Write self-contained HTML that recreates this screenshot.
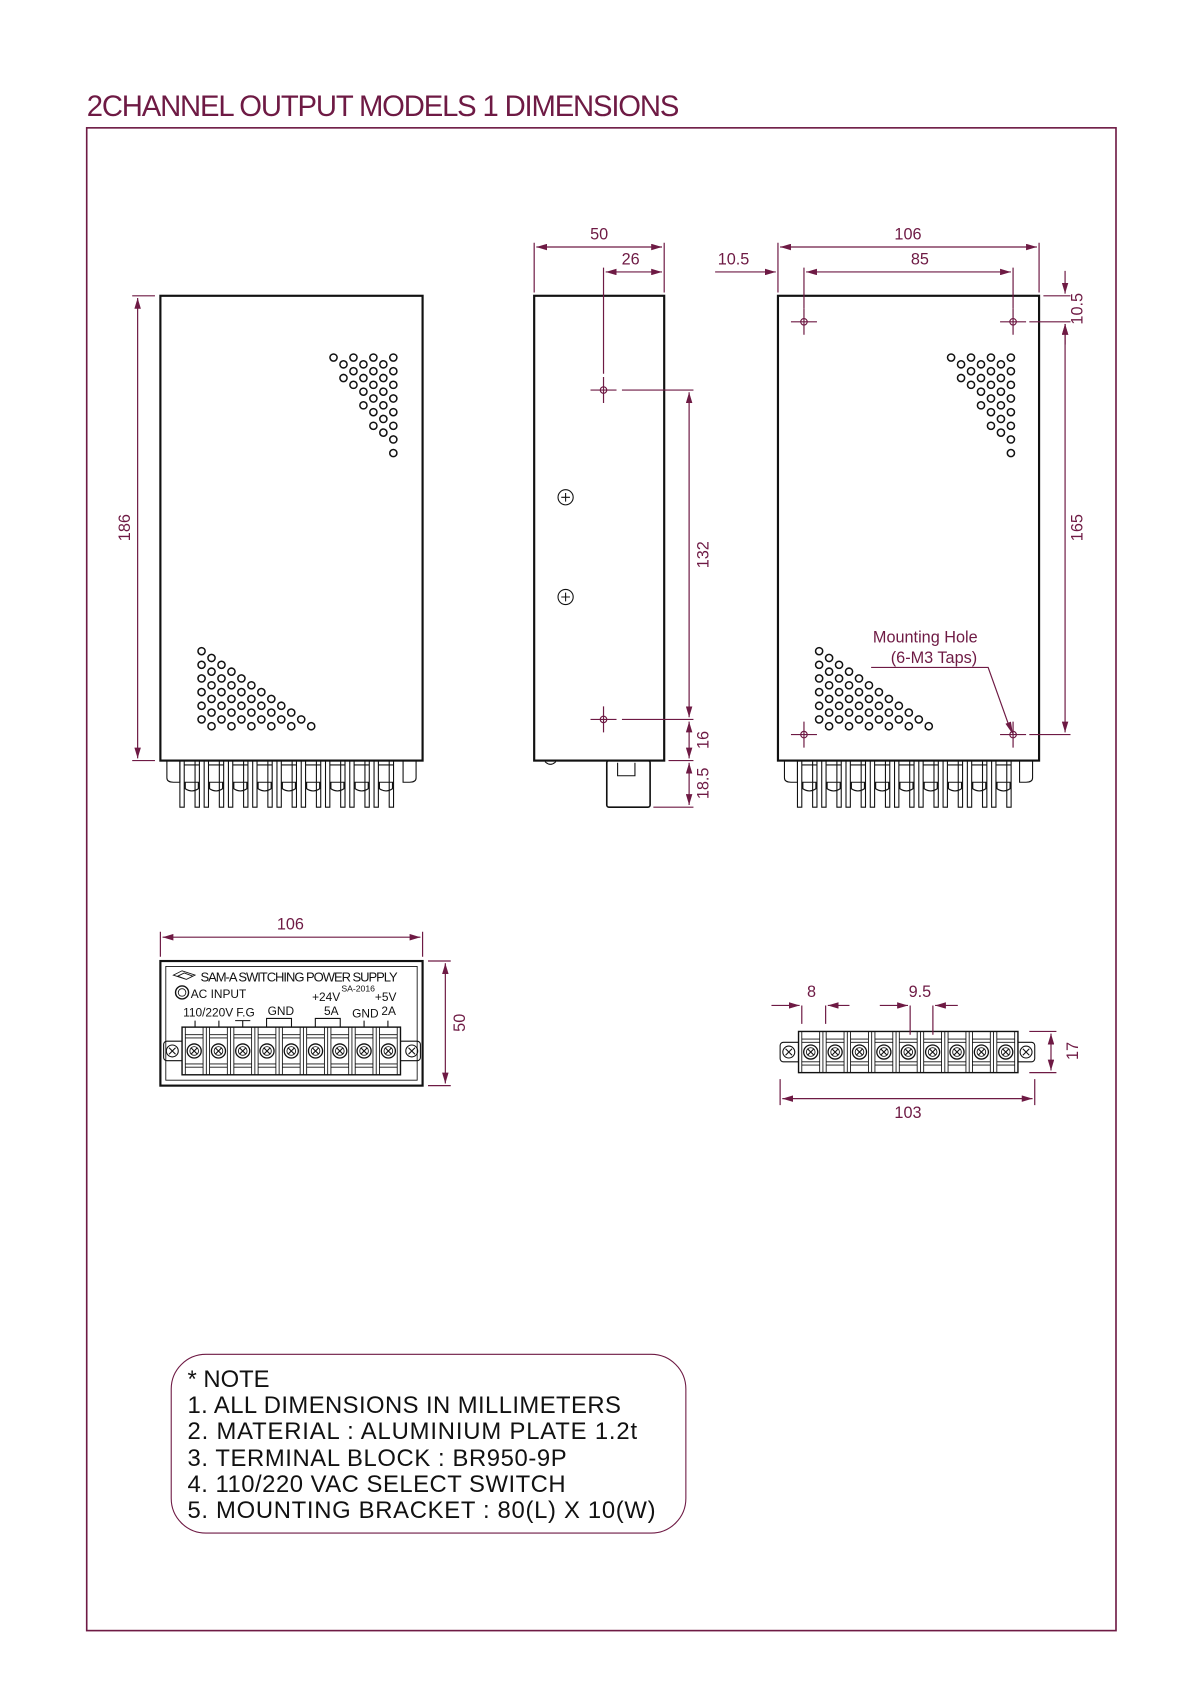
<!DOCTYPE html>
<html><head><meta charset="utf-8"><style>
html,body{margin:0;padding:0;background:#fff}
svg{display:block}
text{font-family:"Liberation Sans Narrow","Liberation Sans","Noto Sans CJK KR",sans-serif}
.m{fill:#6e1a44}
.d{stroke:#6e1a44;stroke-width:1.1;fill:none}
.k{stroke:#111;fill:none}
</style></head><body>
<svg id="s" width="1200" height="1698" viewBox="0 0 1107.5 1567.2" xmlns="http://www.w3.org/2000/svg">
<defs>
<marker id="a" viewBox="0 0 10 6" refX="10" refY="3" markerWidth="10" markerHeight="6" orient="auto-start-reverse" markerUnits="userSpaceOnUse"><path d="M0,0L10,3L0,6z" fill="#6e1a44"/></marker>
</defs>
<text x="80" y="107" class="m" font-size="27" textLength="547">2CHANNEL  OUTPUT  MODELS  1  DIMENSIONS</text>
<rect x="80" y="118" width="950" height="1387" fill="none" stroke="#6e1a44" stroke-width="1.5"/>

<rect x="148" y="273" width="242" height="429" class="k" stroke-width="2"/>
<g id="v1"></g><g id="v2"></g><g id="v3"></g><g id="v4"></g>
<g id="pins1"></g><g id="pins2"></g>
<path class="d" d="M122,273H143M122,702H143"/>
<line class="d" x1="127" y1="275" x2="127" y2="700" marker-start="url(#a)" marker-end="url(#a)"/>
<text class="m" font-size="15" transform="translate(120,487) rotate(-90)" text-anchor="middle">186</text>

<rect x="493" y="273" width="120" height="429" class="k" stroke-width="2"/>
<rect x="560" y="702" width="40" height="43" rx="2" class="k" stroke-width="1.5"/>
<path class="k" d="M570,704v12h16v-12" stroke-width="1"/>
<path class="k" d="M503,703q5,5 10,0" stroke-width="1"/>
<g class="k" stroke-width="1"><circle cx="522" cy="459" r="7"/><path d="M518,459h8M522,455v8"/><circle cx="522" cy="551" r="7"/><path d="M518,551h8M522,547v8"/></g>
<g class="d"><path d="M545,360h24M557,348v24M545,664h24M557,652v24"/><circle cx="557" cy="360" r="3"/><circle cx="557" cy="664" r="3"/>
<path d="M493,270V224M613,270V224M557,345V247M574,360H640M574,664H640M617,702H640M603,745H640"/></g>
<line class="d" x1="495" y1="228" x2="611" y2="228" marker-start="url(#a)" marker-end="url(#a)"/>
<line class="d" x1="559" y1="251" x2="611" y2="251" marker-start="url(#a)" marker-end="url(#a)"/>
<text class="m" font-size="15" x="553" y="221" text-anchor="middle">50</text>
<text class="m" font-size="15" x="582" y="244" text-anchor="middle">26</text>
<line class="d" x1="636" y1="362" x2="636" y2="662" marker-start="url(#a)" marker-end="url(#a)"/>
<line class="d" x1="636" y1="666" x2="636" y2="700" marker-start="url(#a)" marker-end="url(#a)"/>
<line class="d" x1="636" y1="704" x2="636" y2="743" marker-start="url(#a)" marker-end="url(#a)"/>
<text class="m" font-size="15" transform="translate(654,512) rotate(-90)" text-anchor="middle">132</text>
<text class="m" font-size="15" transform="translate(654,683) rotate(-90)" text-anchor="middle">16</text>
<text class="m" font-size="15" transform="translate(654,723) rotate(-90)" text-anchor="middle">18.5</text>

<rect x="718" y="273" width="241" height="429" class="k" stroke-width="2"/>
<g class="d">
<path d="M730,297h24M742,285v24M923,297h24M935,285v24M730,678h24M742,666v24M923,678h24M935,666v24"/>
<circle cx="742" cy="297" r="3"/><circle cx="935" cy="297" r="3"/><circle cx="742" cy="678" r="3"/><circle cx="935" cy="678" r="3"/>
<path d="M718,270V224M959,270V224M742,285V247M935,285V247M963,273H988M950,297H988M950,678H988"/>
<path d="M804,616H912L932,672"/>
</g>
<path d="M928,668L935,678L933,666z" fill="#6e1a44"/>
<line class="d" x1="720" y1="228" x2="957" y2="228" marker-start="url(#a)" marker-end="url(#a)"/>
<line class="d" x1="744" y1="251" x2="933" y2="251" marker-start="url(#a)" marker-end="url(#a)"/>
<line class="d" x1="660" y1="251" x2="716" y2="251" marker-end="url(#a)"/>
<text class="m" font-size="15" x="838" y="221" text-anchor="middle">106</text>
<text class="m" font-size="15" x="849" y="244" text-anchor="middle">85</text>
<text class="m" font-size="15" x="677" y="244" text-anchor="middle">10.5</text>
<line class="d" x1="983" y1="250" x2="983" y2="271" marker-end="url(#a)"/>
<line class="d" x1="983" y1="318" x2="983" y2="299" marker-end="url(#a)"/>
<line class="d" x1="983" y1="299" x2="983" y2="676" marker-start="url(#a)" marker-end="url(#a)"/>
<text class="m" font-size="15" transform="translate(999,285) rotate(-90)" text-anchor="middle">10.5</text>
<text class="m" font-size="15" transform="translate(999,487) rotate(-90)" text-anchor="middle">165</text>
<text class="m" font-size="15" x="854" y="593" text-anchor="middle">Mounting Hole</text>
<text class="m" font-size="15" x="862" y="612" text-anchor="middle">(6-M3 Taps)</text>

<path class="d" d="M148,883V860M390,883V860M395,887H416M395,1002H416"/>
<line class="d" x1="150" y1="865" x2="388" y2="865" marker-start="url(#a)" marker-end="url(#a)"/>
<text class="m" font-size="15" x="268" y="858" text-anchor="middle">106</text>
<line class="d" x1="411" y1="889" x2="411" y2="1000" marker-start="url(#a)" marker-end="url(#a)"/>
<text class="m" font-size="15" transform="translate(429,944) rotate(-90)" text-anchor="middle">50</text>
<rect x="148" y="887" width="242" height="115" class="k" stroke-width="2"/>
<path class="k" stroke-width="0.8" d="M153,892H385V997H153Z"/>
<path class="k" stroke-width="0.8" d="M160,900l8,-4l12,4l-8,4zM164,901l6,-3l8,3l-6,3z"/>
<text x="185" y="906" font-size="12" fill="#111" textLength="182">SAM-A SWITCHING POWER SUPPLY</text>
<text x="315" y="915" font-size="8" fill="#111">SA-2016</text>
<circle cx="168" cy="916" r="6" class="k" stroke-width="1.3"/><circle cx="168" cy="916" r="3.5" class="k" stroke-width="0.8"/>
<text x="176" y="921" font-size="11" fill="#111">AC INPUT</text>
<text x="288" y="924" font-size="11" fill="#111">+24V</text>
<text x="346" y="924" font-size="11" fill="#111">+5V</text>
<text x="169" y="938" font-size="11" fill="#111">110/220V</text>
<text x="218" y="938" font-size="11" fill="#111">F.G</text>
<text x="247" y="937" font-size="11" fill="#111">GND</text>
<text x="299" y="937" font-size="11" fill="#111">5A</text>
<text x="325" y="939" font-size="11" fill="#111">GND</text>
<text x="352" y="937" font-size="11" fill="#111">2A</text>
<path class="k" stroke-width="1" d="M180,942v6M202,942v6M224,942v6M217,942h14M246,948v-8h23v8M291,948v-8h23v8M336,942v6M358,942v6"/>
<g id="tb1"></g>
<g id="tb2"></g>
<g class="d"><path d="M740,928V945M762,928V945M840,928V955M861,928V955M950,952H975M950,990H975M720,996V1020M955,996V1020"/></g>
<line class="d" x1="712" y1="928" x2="738" y2="928" marker-end="url(#a)"/>
<line class="d" x1="784" y1="928" x2="764" y2="928" marker-end="url(#a)"/>
<line class="d" x1="812" y1="928" x2="838" y2="928" marker-end="url(#a)"/>
<line class="d" x1="884" y1="928" x2="863" y2="928" marker-end="url(#a)"/>
<line class="d" x1="722" y1="1014" x2="953" y2="1014" marker-start="url(#a)" marker-end="url(#a)"/>
<line class="d" x1="970" y1="954" x2="970" y2="988" marker-start="url(#a)" marker-end="url(#a)"/>
<text class="m" font-size="15" x="749" y="920" text-anchor="middle">8</text>
<text class="m" font-size="15" x="849" y="920" text-anchor="middle">9.5</text>
<text class="m" font-size="15" x="838" y="1032" text-anchor="middle">103</text>
<text class="m" font-size="15" transform="translate(995,970) rotate(-90)" text-anchor="middle">17</text>

<rect x="158" y="1250" width="475" height="165" rx="32" fill="none" stroke="#6e1a44" stroke-width="1"/>
<g font-size="22" fill="#111">
<text x="173" y="1280">*  NOTE</text>
<text x="173" y="1304" textLength="400">1.  ALL  DIMENSIONS  IN  MILLIMETERS</text>
<text x="173" y="1328" textLength="415">2.  MATERIAL  :  ALUMINIUM  PLATE  1.2t</text>
<text x="173" y="1353" textLength="350">3.  TERMINAL  BLOCK  :  BR950-9P</text>
<text x="173" y="1377" textLength="349">4.  110/220  VAC  SELECT  SWITCH</text>
<text x="173" y="1401" textLength="432">5.  MOUNTING  BRACKET  :  80(L)  X  10(W)</text>
</g>
</svg>
<script>
var NS="http://www.w3.org/2000/svg";
function el(p,t,a){var e=document.createElementNS(NS,t);for(var k in a)e.setAttribute(k,a[k]);document.getElementById(p).appendChild(e);return e;}
function c(p,x,y){el(p,"circle",{cx:x,cy:y,r:3.3,fill:"none",stroke:"#111","stroke-width":1.4});}
function tr(p,right,top){for(var i=0;i<15;i++){var y=top+i*6.3;var off=(i%2)?9.2:0;var left=right-60+i*4.1;for(var x=right-off;x>=left-1;x-=18.4)c(p,x,y);}}
function bl(p,left,top){for(var i=0;i<12;i++){var y=top+i*6.3;var off=(i%2)?9.2:0;var right=left+4+i*9.3;for(var x=left+off;x<=right+1;x+=18.4)c(p,x,y);}}
tr("v1",363,330);tr("v3",933,330);bl("v2",186,601);bl("v4",756,601);
function pins(p,x0){for(var i=0;i<9;i++){var x=x0+i*22.4;
el(p,"path",{d:"M"+x+",702v43h4v-43M"+(x+4)+",706h14v-4M"+(x+18)+",702v43h-4v-43M"+(x+5)+",722h12v6q-6,4 -12,0z",fill:"none",stroke:"#111","stroke-width":1});}}
pins("pins1",166);pins("pins2",736);
el("pins1","path",{d:"M154,702v16q0,4 6,4h6v-20M384,702v16q0,4 -6,4h-6v-20",fill:"none",stroke:"#111","stroke-width":1});
el("pins2","path",{d:"M724,702v16q0,4 6,4h6v-20M953,702v16q0,4 -6,4h-6v-20",fill:"none",stroke:"#111","stroke-width":1});
function tb(p,x0,y0,w,h,n,l,r){
el(p,"rect",{x:l,y:y0+(h/2)-9,width:r-l,height:18,rx:3,fill:"none",stroke:"#111","stroke-width":1});
el(p,"rect",{x:x0,y:y0,width:w*n,height:h,fill:"#fff",stroke:"#111","stroke-width":1.3});
[l+8,r-8].forEach(function(x){el(p,"circle",{cx:x,cy:y0+h/2,r:5.5,fill:"none",stroke:"#111","stroke-width":1});el(p,"path",{d:"M"+(x-3)+","+(y0+h/2-3)+"l6,6m0,-6l-6,6",stroke:"#111","stroke-width":1});});
for(var i=0;i<n;i++){var x=x0+i*w,cx=x+w/2,cy=y0+h/2;
el(p,"path",{d:"M"+x+","+y0+"v"+h+"M"+(x+3)+","+y0+"v"+h+"M"+(x+w-3)+","+y0+"v"+h+"M"+(x+3)+","+(y0+7)+"h"+(w-6)+"M"+(x+3)+","+(y0+10)+"h"+(w-6)+"M"+(x+3)+","+(y0+h-7)+"h"+(w-6)+"M"+(x+3)+","+(y0+h-10)+"h"+(w-6),fill:"none",stroke:"#111","stroke-width":0.8});
el(p,"circle",{cx:cx,cy:cy,r:6.5,fill:"none",stroke:"#111","stroke-width":1.2});
el(p,"circle",{cx:cx,cy:cy,r:4,fill:"none",stroke:"#111","stroke-width":0.8});
el(p,"path",{d:"M"+(cx-3)+","+(cy-3)+"l6,6m0,-6l-6,6",stroke:"#111","stroke-width":1});}}
tb("tb1",168,948,22.4,44,9,151,388);
tb("tb2",737,952,22.5,38,9,720,955);
</script>
</body></html>
